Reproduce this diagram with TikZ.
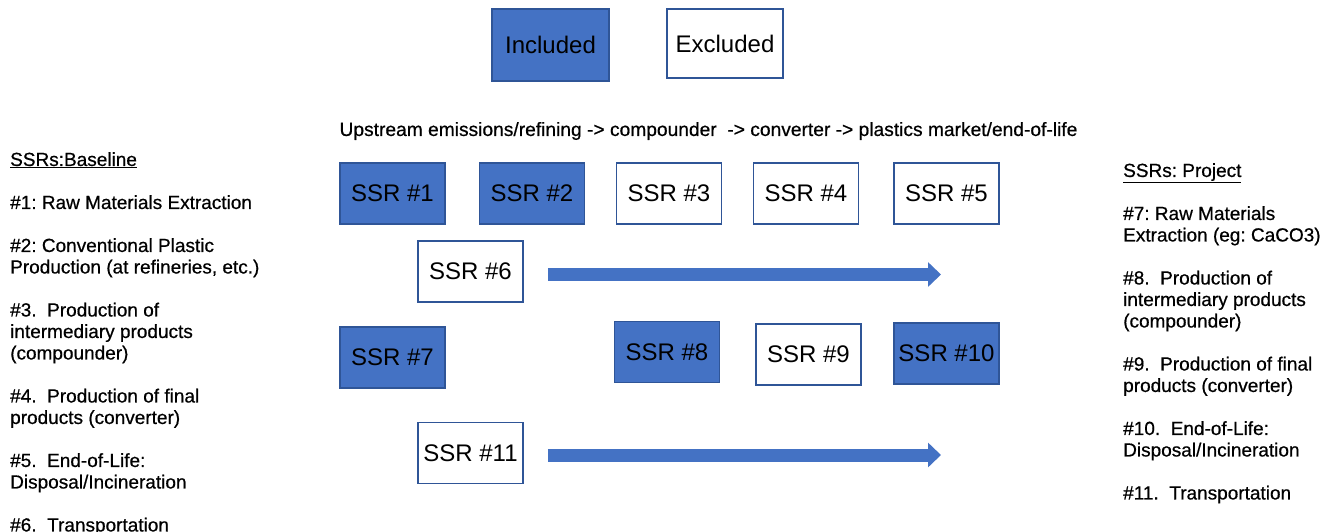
\documentclass[tikz,border=0pt]{standalone}
\usepackage{fontspec}
\setmainfont{Liberation Sans}
\newfontfamily\sidefont{Liberation Sans}[BoldFont={Liberation Sans}, BoldFeatures={FakeBold=0.6}]
\usepackage{xcolor}
\usepackage{tikz}
\usetikzlibrary{positioning,arrows.meta}
\definecolor{ssrblue}{HTML}{4472C4}
\definecolor{ssredge}{HTML}{2F5597}
\frenchspacing

\begin{document}
\begin{tikzpicture}[x=1pt,y=-1pt,
  ssr/.style={draw=ssredge, line width=1.5pt, minimum width=105pt, minimum height=61pt, inner sep=0pt, font=\fontsize{24}{28}\selectfont},
  ssrin/.style={ssr, fill=ssrblue},
  ssrout/.style={ssr, fill=white},
  flowarrow/.style={ssrblue, line width=13pt, -{Triangle[length=13pt,width=24pt]}},
  sidetext/.style={align=left, inner sep=0pt, anchor=north west, font=\sidefont\bfseries\fontsize{19}{21.5}\selectfont}]
\useasboundingbox (0,0) rectangle (1329,531);

% legend
\node[ssrin, minimum width=117pt, minimum height=72pt] (incl) at (550.5,45) {Included};
\node[ssrout, minimum width=116pt, minimum height=69pt] (excl) at (725,43.5) {Excluded};

\node[font=\sidefont\bfseries\fontsize{19.2}{22}\selectfont] (flow) at (708.5,131) {Upstream emissions/refining -> compounder\ \ -> converter -> plastics market/end-of-life};

% baseline SSRs
\node[ssrin] (ssr1) at (392.5,193.5) {SSR \#1};
\node[ssrin] (ssr2) at (532,193.5) {SSR \#2};
\node[ssrout] (ssr3) at (669,193.5) {SSR \#3};
\node[ssrout] (ssr4) at (806,193.5) {SSR \#4};
\node[ssrout] (ssr5) at (946.5,193.5) {SSR \#5};
\node[ssrout] (ssr6) at (470.5,271.5) {SSR \#6};

% project SSRs
\node[ssrin] (ssr7) at (392.5,357.5) {SSR \#7};
\node[ssrin] (ssr8) at (667,352) {SSR \#8};
\node[ssrout] (ssr9) at (808.5,354.5) {SSR \#9};
\node[ssrin] (ssr10) at (946.5,353.5) {SSR \#10};
\node[ssrout] (ssr11) at (470.5,453) {SSR \#11};

% transport arrows
\coordinate (end6) at (941,274.5);
\coordinate (end11) at (941,455);
\draw[flowarrow] ([xshift=24pt]ssr6.east |- end6) -- (end6);
\draw[flowarrow] ([xshift=24pt]ssr11.east |- end11) -- (end11);

% side lists
\node[sidetext] (baselist) at (10,152) {\underline{SSRs:Baseline}\\[21.5pt]
\#1: Raw Materials Extraction\\[21.5pt]
\#2: Conventional Plastic\\ Production (at refineries, etc.)\\[21.5pt]
\#3.\ \ Production of\\ intermediary products\\ (compounder)\\[21.5pt]
\#4.\ \ Production of final\\ products (converter)\\[21.5pt]
\#5.\ \ End-of-Life:\\ Disposal/Incineration\\[21.5pt]
\#6.\ \ Transportation};
\node[sidetext] (projlist) at (1123,163) {\underline{SSRs: Project}\\[21.5pt]
\#7: Raw Materials\\ Extraction (eg: CaCO3)\\[21.5pt]
\#8.\ \ Production of\\ intermediary products\\ (compounder)\\[21.5pt]
\#9.\ \ Production of final\\ products (converter)\\[21.5pt]
\#10.\ \ End-of-Life:\\ Disposal/Incineration\\[21.5pt]
\#11.\ \ Transportation};
\end{tikzpicture}
\end{document}
